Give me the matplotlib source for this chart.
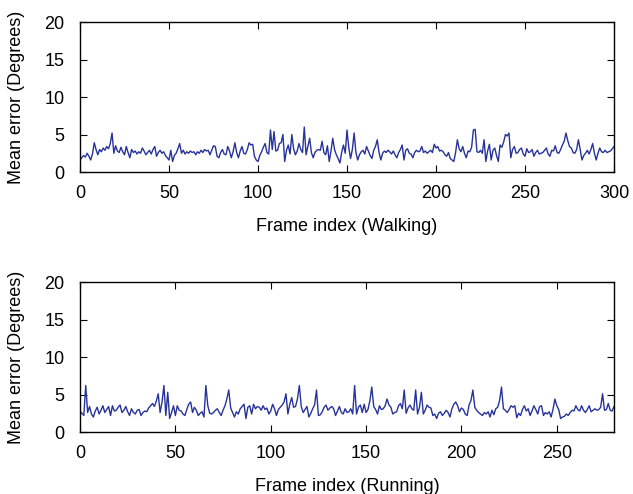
import matplotlib
matplotlib.use('Agg')
import matplotlib.pyplot as plt

plt.rcParams['font.family'] = ['Liberation Sans', 'DejaVu Sans']
plt.rcParams['font.size'] = 13

# mean error per frame, walking sequence (frames 0..300)
walking = [
    1.6, 1.9, 2.2, 2.0, 2.5, 2.1, 1.6, 2.4, 3.9, 3.0,
    2.3, 3.0, 2.7, 3.2, 2.9, 3.4, 3.1, 3.8, 5.2, 2.5,
    3.5, 2.8, 2.6, 3.3, 2.7, 2.3, 3.4, 2.6, 1.9, 3.0,
    2.6, 2.8, 2.4, 2.7, 2.5, 3.2, 2.8, 2.3, 2.6, 2.9,
    2.4, 3.0, 3.4, 2.1, 2.6, 2.9, 2.5, 2.7, 2.2, 1.9,
    1.6, 2.9, 1.4, 2.2, 2.5, 3.1, 3.8, 2.5, 2.9, 2.4,
    2.7, 2.5, 2.8, 2.6, 2.7, 2.3, 2.7, 2.5, 2.9, 2.6,
    3.0, 2.8, 2.9, 2.3, 2.9, 3.5, 3.4, 2.1, 1.9, 2.6,
    3.0, 2.4, 2.3, 3.4, 2.8, 1.9, 2.7, 3.9, 2.6, 1.9,
    2.8, 3.4, 2.5, 2.4, 3.0, 3.9, 3.6, 3.7, 2.1, 1.6,
    1.4, 2.2, 2.7, 3.3, 3.8, 2.6, 2.4, 5.6, 3.0, 5.4,
    2.8, 2.9, 3.8, 3.9, 5.0, 1.4, 2.9, 3.6, 2.4, 5.0,
    3.1, 2.3, 2.8, 3.8, 3.0, 2.6, 6.0, 2.3, 3.4, 4.5,
    2.6, 1.9, 2.6, 2.9, 3.0, 2.9, 4.1, 2.6, 2.3, 3.5,
    1.4, 2.8, 4.5, 3.0, 2.3, 1.8, 1.2, 2.6, 3.6, 2.5,
    5.6, 3.2, 1.8, 3.0, 5.2, 2.6, 1.6, 2.3, 2.7, 2.9,
    2.4, 3.4, 2.8, 2.2, 1.8, 2.9, 3.4, 4.3, 2.6, 1.6,
    2.5, 2.8, 2.6, 2.9, 2.7, 2.4, 2.8, 2.3, 1.9, 2.6,
    3.0, 3.6, 1.6, 2.9, 3.1, 2.5, 2.4, 1.9, 2.6, 2.9,
    2.7, 2.8, 3.4, 2.6, 2.8, 2.5, 2.7, 2.9, 2.6, 3.7,
    3.2, 3.4, 2.8, 2.9, 2.7, 2.3, 2.1, 2.6, 1.8, 1.6,
    1.4, 2.6, 4.3, 3.1, 2.7, 3.4, 2.5, 1.9, 2.8, 2.7,
    3.3, 5.6, 5.7, 2.7, 2.6, 2.9, 2.5, 4.3, 1.4, 2.8,
    3.7, 1.6, 2.9, 3.2, 2.2, 1.4, 3.6, 3.3, 4.0, 5.0,
    4.8, 5.2, 1.9, 3.0, 3.4, 2.5, 2.6, 3.0, 3.2, 2.4,
    2.1, 3.1, 2.6, 2.7, 3.0, 2.1, 2.6, 2.9, 2.4, 2.5,
    2.6, 2.9, 3.2, 2.4, 2.1, 2.9, 2.8, 3.5, 2.6, 2.5,
    3.0, 3.6, 4.1, 5.2, 4.2, 3.4, 3.2, 2.6, 2.5, 3.0,
    4.3, 3.0, 1.6, 2.2, 2.5, 2.9, 2.4, 3.0, 3.8, 2.5,
    1.6, 2.5, 3.2, 2.7, 2.6, 2.9, 2.6, 2.7, 2.8, 3.1, 3.4,
]

# mean error per frame, running sequence (frames 0..280)
running = [
    2.8, 2.5, 2.2, 6.2, 2.6, 3.4, 2.4, 2.0, 2.8, 3.3,
    2.4, 2.9, 3.5, 2.6, 3.0, 3.4, 2.2, 3.5, 2.8, 2.9,
    3.3, 3.6, 2.6, 2.9, 3.4, 2.7, 2.2, 3.1, 2.6, 2.4,
    2.9, 3.0, 2.2, 2.6, 2.8, 2.7, 3.2, 3.5, 3.8, 3.4,
    4.1, 5.1, 2.6, 4.0, 6.2, 2.2, 5.3, 1.8, 2.6, 3.5,
    2.2, 3.5, 2.9, 2.8, 2.4, 2.2, 3.0, 3.7, 4.0, 2.6,
    3.3, 2.9, 2.2, 2.5, 2.7, 2.0, 6.2, 3.5, 2.5, 2.4,
    2.6, 2.9, 3.1, 2.6, 2.2, 2.9, 3.5, 4.4, 5.6, 3.2,
    2.6, 2.0, 2.7, 2.4, 3.1, 3.4, 3.7, 1.8, 3.3, 3.5,
    2.4, 3.7, 3.1, 3.4, 3.3, 2.9, 3.5, 3.0, 3.2, 2.4,
    2.8, 3.7, 3.1, 2.2, 3.0, 3.3, 3.6, 4.0, 5.1, 2.4,
    3.7, 4.6, 3.3, 3.4, 4.4, 6.2, 3.4, 2.6, 3.0, 3.4,
    2.0, 2.5, 3.1, 3.6, 5.6, 2.2, 2.3, 2.7, 3.3, 3.6,
    2.9, 3.2, 3.4, 3.1, 2.2, 2.8, 3.4, 2.6, 2.4, 3.1,
    2.6, 2.7, 3.1, 2.4, 6.2, 2.4, 3.3, 3.6, 2.6, 3.7,
    2.6, 3.0, 4.2, 6.0, 3.4, 3.0, 2.4, 3.5, 3.0, 3.1,
    3.5, 4.4, 3.6, 3.3, 2.4, 2.6, 2.7, 3.5, 3.8, 3.1,
    5.6, 2.5, 3.2, 3.6, 3.1, 2.9, 5.6, 2.4, 3.3, 5.3,
    2.4, 2.9, 3.6, 3.3, 3.2, 2.2, 2.4, 1.8, 2.5, 2.7,
    2.2, 2.5, 2.9, 2.6, 2.0, 3.1, 3.7, 4.0, 3.5, 2.7,
    3.2, 3.0, 2.4, 2.2, 3.6, 4.2, 5.6, 3.3, 2.9, 2.6,
    2.4, 2.2, 2.6, 2.4, 2.7, 2.0, 2.9, 2.3, 3.1, 3.3,
    4.2, 6.0, 3.1, 2.9, 2.6, 3.0, 3.5, 3.3, 3.5, 1.9,
    2.5, 2.2, 3.0, 3.5, 2.8, 3.1, 2.2, 2.8, 3.5, 3.0,
    2.4, 3.4, 3.5, 2.2, 2.6, 2.4, 2.7, 2.0, 3.0, 4.4,
    3.5, 3.0, 1.8, 2.0, 2.1, 2.4, 2.2, 2.6, 2.9, 2.8,
    3.5, 3.0, 2.8, 3.5, 2.9, 2.6, 3.0, 3.5, 2.7, 2.9,
    3.1, 2.9, 3.0, 3.3, 5.1, 2.9, 3.0, 3.8, 2.9, 2.8, 3.4,
]

y_ticks = [0, 5, 10, 15, 20]
walk_xticks = [0, 50, 100, 150, 200, 250, 300]
run_xticks = [0, 50, 100, 150, 200, 250]

line_color = '#27339a'


def setup(ax, xlim, xticks, xlabel):
    ax.set_xlim(*xlim)
    ax.set_ylim(0, 20)
    ax.set_xticks(xticks)
    ax.set_yticks(y_ticks)
    ax.tick_params(direction='in', top=True, right=True, length=5,
                   width=0.8, labelsize=13)
    ax.tick_params(axis='y', pad=11)
    ax.tick_params(axis='x', pad=9)
    ax.set_xlabel(xlabel, fontsize=13, labelpad=12)
    ax.set_ylabel('Mean error (Degrees)', fontsize=13, labelpad=14)
    for s in ax.spines.values():
        s.set_linewidth(1.0)


fig = plt.figure(figsize=(6.33, 4.94), dpi=100)

ax1 = fig.add_axes([0.1264, 0.6518, 0.8436, 0.3036])
ax1.plot(range(len(walking)), walking, color=line_color, lw=1.0)
setup(ax1, (0, 300), walk_xticks, 'Frame index (Walking)')

ax2 = fig.add_axes([0.1264, 0.1255, 0.8436, 0.3036])
ax2.plot(range(len(running)), running, color=line_color, lw=1.0)
setup(ax2, (0, 280), run_xticks, 'Frame index (Running)')

fig.savefig('out.png', dpi=100)
